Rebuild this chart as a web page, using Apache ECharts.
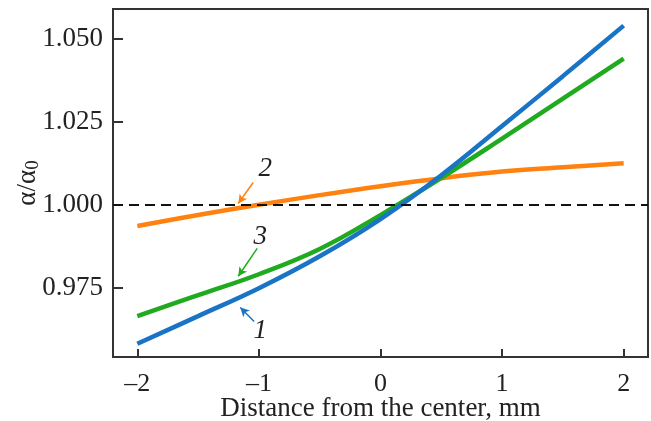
<!DOCTYPE html>
<html>
<head>
<meta charset="utf-8">
<script src="https://cdn.jsdelivr.net/npm/echarts@6/dist/echarts.min.js"></script>
<style>
  html, body { margin: 0; padding: 0; background: #fff; }
  #chart { width: 651px; height: 421px; }
</style>
</head>
<body>
<div id="chart"></div>
<script>
// Distance from the center, mm
const distance = [-2, -1.5, -1, -0.5, 0, 0.5, 1, 1.5, 2];

// Normalised coefficient α/α0 for the three curves
const curve1 = [0.9583, 0.9666, 0.9750, 0.9846, 0.9958, 1.0090, 1.0238, 1.0388, 1.0540];
const curve2 = [0.9937, 0.9970, 1.0001, 1.0030, 1.0057, 1.0081, 1.0101, 1.0114, 1.0126];
const curve3 = [0.9666, 0.9729, 0.9792, 0.9868, 0.9970, 1.0082, 1.0200, 1.0320, 1.0441];

// Tick labels
const xTicks = [-2, -1, 0, 1, 2];
const yTicks = [0.975, 1.000, 1.025, 1.050];

// Curve number labels and their pointer arrows, in data coordinates
const labelPos1 = [-0.989, 0.9623];
const arrow1 = [[-1.039, 0.9650], [-1.153, 0.9692]];
const labelPos2 = [-0.948, 1.0109];
const arrow2 = [[-1.047, 1.0068], [-1.170, 1.0005]];
const labelPos3 = [-0.989, 0.9903];
const arrow3 = [[-1.014, 0.9870], [-1.170, 0.9786]];

const FONT = '"Liberation Serif", "Times New Roman", serif';
const TXT = '#222';
const COLORS = { c1: '#1a74c6', c2: '#ff8210', c3: '#1faa1f' };

function pairs(ys) { return distance.map((x, i) => [x, ys[i]]); }
function fmtMinus(v) { return v < 0 ? '\u2013' + Math.abs(v) : String(v); }

function curveSeries(name, ys, color, labelPos, arrow, label, z) {
  return {
    name: name,
    type: 'line',
    data: pairs(ys),
    smooth: 0.4,
    symbol: 'none',
    lineStyle: { color: color, width: 4.5, cap: 'butt' },
    z: z,
    markPoint: {
      symbol: 'circle',
      symbolSize: 0,
      silent: true,
      label: {
        show: true, position: 'inside', formatter: label,
        fontFamily: FONT, fontStyle: 'italic', fontSize: 27, color: TXT
      },
      data: [{ coord: labelPos }]
    },
    markLine: {
      silent: true,
      symbol: ['none', 'arrow'],
      symbolSize: [7, 9],
      label: { show: false },
      lineStyle: { color: color, width: 1.5, type: 'solid' },
      data: [[{ coord: arrow[0] }, { coord: arrow[1] }]]
    }
  };
}

const chart = echarts.init(document.getElementById('chart'), null, { renderer: 'canvas' });

chart.setOption({
  animation: false,
  backgroundColor: '#fff',
  grid: {
    left: 113, right: 3, top: 9, bottom: 64,
    containLabel: false,
    outerBoundsMode: 'none',
    show: true, borderColor: '#333', borderWidth: 2, backgroundColor: 'transparent'
  },
  xAxis: {
    type: 'value',
    min: -2.2, max: 2.2,
    name: 'Distance from the center, mm',
    nameLocation: 'middle',
    nameGap: 38,
    nameMoveOverlap: false,
    nameTextStyle: { fontFamily: FONT, fontSize: 27, color: TXT },
    axisLine: { show: false, onZero: false },
    splitLine: { show: false },
    axisTick: {
      show: true, inside: true, length: 8,
      customValues: xTicks,
      lineStyle: { color: '#333', width: 2 }
    },
    axisLabel: {
      customValues: xTicks,
      formatter: fmtMinus,
      margin: 14,
      fontFamily: FONT, fontSize: 26, color: TXT
    }
  },
  yAxis: {
    type: 'value',
    min: 0.9543, max: 1.059,
    name: '{a|α/α}{s|0}',
    nameLocation: 'middle',
    nameGap: 70,
    nameMoveOverlap: false,
    nameTextStyle: {
      fontFamily: FONT, fontSize: 27, color: TXT,
      rich: {
        a: { fontFamily: FONT, fontSize: 27, color: TXT },
        s: { fontFamily: FONT, fontSize: 19, color: TXT, verticalAlign: 'bottom', padding: [12, 0, 0, 0] }
      }
    },
    axisLine: { show: false, onZero: false },
    splitLine: { show: false },
    axisTick: {
      show: true, inside: true, length: 10,
      customValues: yTicks,
      lineStyle: { color: '#333', width: 2 }
    },
    axisLabel: {
      customValues: yTicks,
      formatter: v => v.toFixed(3),
      margin: 10,
      fontFamily: FONT, fontSize: 27, color: TXT
    }
  },
  series: [
    curveSeries('2', curve2, COLORS.c2, labelPos2, arrow2, '2', 2),
    curveSeries('3', curve3, COLORS.c3, labelPos3, arrow3, '3', 3),
    curveSeries('1', curve1, COLORS.c1, labelPos1, arrow1, '1', 4),
    {
      name: 'reference',
      type: 'line',
      data: [],
      markLine: {
        silent: true,
        symbol: ['none', 'none'],
        label: { show: false },
        lineStyle: { color: '#111', width: 2, type: [10, 6] },
        data: [{ yAxis: 1.0 }]
      },
      z: 1
    }
  ]
});
</script>
</body>
</html>
